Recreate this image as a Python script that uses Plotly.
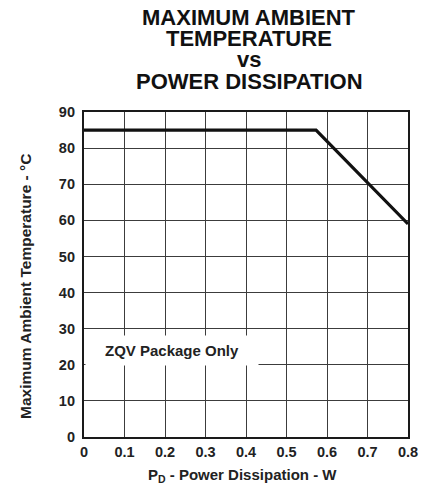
import plotly.graph_objects as go

# ---- data ----
power_w = [0.0, 0.573, 0.8]
temp_c = [85, 85, 59]
x_ticks = [0, 0.1, 0.2, 0.3, 0.4, 0.5, 0.6, 0.7, 0.8]
x_tick_labels = ["0", "0.1", "0.2", "0.3", "0.4", "0.5", "0.6", "0.7", "0.8"]
y_ticks = [0, 10, 20, 30, 40, 50, 60, 70, 80, 90]
y_tick_labels = [str(v) for v in y_ticks]
title_lines = ["MAXIMUM AMBIENT", "TEMPERATURE", "vs", "POWER DISSIPATION"]
x_title = "P<sub>D</sub> - Power Dissipation - W"
y_title = "Maximum Ambient Temperature - °C"
note_text = "ZQV Package Only"

# page has an 8px body margin; size the figure to fill the remaining window
OFF = 8
W, H = 432 - OFF, 487 - OFF
# plot area in page pixels: x 84..408, y 112..437
L, R = 84 - OFF, 432 - 408
T, B = 112 - OFF, 487 - 437
PW, PH = W - L - R, H - T - B
FONT = "Liberation Sans, Arial, Helvetica, sans-serif"


def px_x(px):
    return (px - OFF - L) / PW


def px_y(py):
    return (H - B - (py - OFF)) / PH


fig = go.Figure()
fig.add_trace(go.Scatter(x=power_w, y=temp_c, mode="lines",
                         line=dict(color="#111111", width=3.2),
                         hoverinfo="skip", showlegend=False))

axis_common = dict(showline=True, mirror=True, linecolor="#1a1a1a", linewidth=2.2,
                   showgrid=True, gridcolor="#3c3c3c", gridwidth=1.3,
                   zeroline=False, ticks="",
                   tickfont=dict(family=FONT, size=14.5, color="#222222", weight="bold"))

fig.update_xaxes(range=[0, 0.8], tickvals=x_ticks, ticktext=x_tick_labels, **axis_common)
fig.update_yaxes(range=[0, 90], tickvals=y_ticks, ticktext=y_tick_labels,
                 ticklabelstandoff=4, **axis_common)

annotations = []
title_baselines = [25.7, 46.8, 68.0, 90.0]
for txt, by in zip(title_lines, title_baselines):
    annotations.append(dict(text=txt, xref="paper", yref="paper", x=px_x(249), y=px_y(by + 5),
                            xanchor="center", yanchor="bottom", showarrow=False, borderpad=0,
                            font=dict(family=FONT, size=22, color="#111111", weight="bold")))

annotations.append(dict(text=x_title, xref="paper", yref="paper", x=px_x(242), y=px_y(475),
                        xanchor="center", yanchor="middle", showarrow=False,
                        font=dict(family=FONT, size=15, color="#222222", weight="bold")))
annotations.append(dict(text=y_title, xref="paper", yref="paper", x=px_x(25), y=px_y(287),
                        xanchor="center", yanchor="middle", showarrow=False, textangle=-90,
                        font=dict(family=FONT, size=15.5, color="#222222", weight="bold")))
annotations.append(dict(text=note_text, xref="paper", yref="paper", x=px_x(172), y=px_y(350),
                        xanchor="center", yanchor="middle", showarrow=False,
                        bgcolor="white", borderpad=6, width=160,
                        font=dict(family=FONT, size=15, color="#222222", weight="bold")))

fig.update_layout(width=W, height=H, margin=dict(l=L, r=R, t=T, b=B),
                  plot_bgcolor="white", paper_bgcolor="white",
                  annotations=annotations, showlegend=False)

fig.write_html("out.html")
